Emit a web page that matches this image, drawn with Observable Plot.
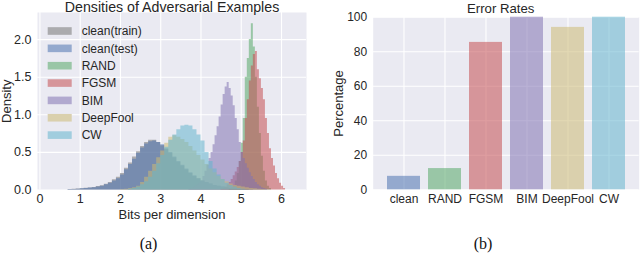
<!DOCTYPE html>
<html><head><meta charset="utf-8">
<script src="https://cdn.jsdelivr.net/npm/d3@7"></script>
<script src="https://cdn.jsdelivr.net/npm/@observablehq/plot@0.6"></script>
<style>
body{margin:0;background:#fff}
#wrap{position:relative;width:640px;height:255px;overflow:hidden}
#wrap > svg{position:absolute;top:0}
</style>
</head><body><div id="wrap"></div>
<script>
// ---------- Panel (a): histogram densities ----------
const seriesNames = ["clean(train)", "clean(test)", "RAND", "FGSM", "BIM", "DeepFool", "CW"];
const seriesColors = ["#808080", "#4C72B0", "#55A868", "#C44E52", "#8172B2", "#CCB974", "#64B5CD"];
const binStarts = [0.7, 0.7, 4.7, 4.5, 3.7, 2.0, 2.2];
const binWidths = [0.1, 0.1, 0.05, 0.05, 0.05, 0.1, 0.1];

const cleanTrain = [0.006,0.009,0.012,0.017,0.022,0.028,0.034,0.045,0.057,0.078,0.1,0.135,0.17,0.22,0.29,0.36,0.44,0.51,0.58,0.63,0.66,0.66,0.63,0.59,0.54,0.49,0.43,0.37,0.32,0.27,0.22,0.18,0.15,0.12,0.1,0.08,0.06,0.05,0.04,0.03,0.02,0.015,0.01,0.007,0.005,0.003];
const cleanTest = [0.005,0.008,0.01,0.015,0.02,0.025,0.03,0.04,0.05,0.07,0.09,0.12,0.15,0.2,0.27,0.34,0.41,0.49,0.56,0.61,0.64,0.65,0.63,0.6,0.55,0.5,0.44,0.38,0.33,0.28,0.23,0.19,0.15,0.12,0.1,0.08,0.06,0.05,0.04,0.03,0.02,0.015,0.01,0.007,0.005,0.003];
const rand = [0.01,0.03,0.06,0.12,0.22,0.38,0.62,0.95,1.5,1.75,2.0,2.21,1.9,1.5,1.1,0.75,0.45,0.25,0.12,0.05,0.02];
const fgsm = [0.01,0.02,0.04,0.07,0.1,0.14,0.19,0.24,0.3,0.38,0.5,0.65,0.95,1.2,1.45,1.65,1.8,1.84,1.6,1.48,1.35,1.2,0.95,0.75,0.55,0.42,0.32,0.22,0.15,0.09,0.05,0.02];
const bim = [0.01,0.02,0.03,0.05,0.07,0.09,0.12,0.18,0.25,0.33,0.42,0.5,0.6,0.72,0.84,0.97,1.13,1.27,1.37,1.43,1.35,1.25,1.12,0.95,0.8,0.63,0.5,0.42,0.35,0.29,0.23,0.18,0.14,0.1,0.07,0.05,0.03,0.02,0.01];
const deepFool = [0.005,0.01,0.02,0.03,0.05,0.1,0.17,0.25,0.34,0.43,0.52,0.62,0.7,0.72,0.7,0.67,0.63,0.58,0.52,0.46,0.4,0.34,0.28,0.23,0.18,0.14,0.11,0.08,0.06,0.05,0.04,0.03,0.02,0.015,0.01,0.005];
const cw = [0.01,0.02,0.04,0.07,0.11,0.17,0.25,0.35,0.46,0.57,0.66,0.73,0.8,0.85,0.86,0.85,0.8,0.73,0.65,0.5,0.38,0.28,0.2,0.14,0.09,0.06,0.04,0.02,0.01];
const seriesValues = [cleanTrain, cleanTest, rand, fgsm, bim, deepFool, cw];

const densXTicks = [0, 1, 2, 3, 4, 5, 6];
const densYTicks = [0, 0.5, 1.0, 1.5, 2.0];

// ---------- Panel (b): error rates ----------
const errCategories = ["clean", "RAND", "FGSM", "BIM", "DeepFool", "CW"];
const errValues = [7.8, 12.3, 85.4, 100, 94.1, 100];
const errColors = ["#4C72B0", "#55A868", "#C44E52", "#8172B2", "#CCB974", "#64B5CD"];
const errYTicks = [0, 20, 40, 60, 80, 100];

const BG = "#EAEAF2", INK = "#262626", ALPHA = 0.55;

function steps(start, w, vals) {
  const pts = vals.map((v, i) => ({x: start + i * w, y: v}));
  pts.push({x: start + vals.length * w, y: vals[vals.length - 1]});
  return pts;
}

const areaMarks = seriesValues.map((vals, k) =>
  Plot.areaY(steps(binStarts[k], binWidths[k], vals), {
    x: "x", y: "y", curve: "step-after", fill: seriesColors[k], fillOpacity: k === 0 ? 0.6 : ALPHA
  })
);

const left = Plot.plot({
  width: 320, height: 255,
  marginLeft: 37, marginRight: 14, marginTop: 12, marginBottom: 65.5,
  style: {background: "transparent", fontFamily: "'Liberation Sans', Arial, sans-serif", fontSize: "12.5px", color: INK, overflow: "visible"},
  x: {domain: [-0.06, 6.62], label: null},
  y: {domain: [0, 2.36], label: null},
  marks: [
    Plot.frame({fill: BG, stroke: null}),
    Plot.gridX(densXTicks, {stroke: "white", strokeOpacity: 1, strokeWidth: 1.1}),
    Plot.gridY(densYTicks, {stroke: "white", strokeOpacity: 1, strokeWidth: 1.1}),
    ...areaMarks,
    Plot.axisX(densXTicks, {tickSize: 0, tickPadding: 4.5, fill: INK, tickFormat: d3.format("d")}),
    Plot.axisY(densYTicks, {tickSize: 0, tickPadding: 6, fill: INK, tickFormat: d3.format(".1f")}),
    Plot.text(["Densities of Adversarial Examples"], {frameAnchor: "top", lineAnchor: "bottom", dy: -1, fontSize: 14.2, fill: INK}),
    Plot.text(["Bits per dimension"], {frameAnchor: "bottom", lineAnchor: "bottom", dy: 28.5, fontSize: 13, fill: INK}),
    Plot.text(["Density"], {frameAnchor: "left", rotate: -90, dx: -30.5, lineAnchor: "middle", textAnchor: "middle", fontSize: 13, fill: INK}),
    Plot.text(["(a)"], {frameAnchor: "bottom-left", dx: 111, dy: 58.5, lineAnchor: "bottom", textAnchor: "middle", fontSize: 16, fontFamily: "'Liberation Serif', 'Times New Roman', serif", fill: "#111"})
  ]
});
left.style.left = "0px";

const right = Plot.plot({
  width: 320, height: 255,
  marginLeft: 52.7, marginRight: 1.3, marginTop: 16.7, marginBottom: 65.7,
  style: {background: "transparent", fontFamily: "'Liberation Sans', Arial, sans-serif", fontSize: "12px", color: INK, overflow: "visible"},
  x: {domain: errCategories, paddingInner: 0.2, paddingOuter: 0.29, label: null},
  y: {domain: [0, 100], label: null},
  color: {type: "identity"},
  marks: [
    Plot.frame({fill: BG, stroke: null}),
    Plot.gridX({stroke: "white", strokeOpacity: 1, strokeWidth: 1.1}),
    Plot.gridY(errYTicks, {stroke: "white", strokeOpacity: 1, strokeWidth: 1.1}),
    Plot.barY(errCategories, {x: d => d, y: (d, i) => errValues[i], fill: (d, i) => errColors[i], fillOpacity: ALPHA}),
    Plot.axisX({tickSize: 0, tickPadding: 5, fill: INK}),
    Plot.axisY(errYTicks, {tickSize: 0, tickPadding: 6, fill: INK, tickFormat: d3.format("d")}),
    Plot.text(["Error Rates"], {frameAnchor: "top", lineAnchor: "bottom", dx: -5.5, dy: -4.3, fontSize: 13.2, fill: INK}),
    Plot.text(["Percentage"], {frameAnchor: "left", rotate: -90, dx: -34.5, lineAnchor: "middle", textAnchor: "middle", fontSize: 13, fill: INK}),
    Plot.text(["(b)"], {frameAnchor: "bottom-left", dx: 109.8, dy: 58.7, lineAnchor: "bottom", textAnchor: "middle", fontSize: 16, fontFamily: "'Liberation Serif', 'Times New Roman', serif", fill: "#111"})
  ]
});
right.style.left = "320px";

const wrap = document.getElementById("wrap");
wrap.appendChild(left);
wrap.appendChild(right);

// Legend overlay for panel (a)
const legendY0 = 31, legendStep = 17.35;
const leg = d3.create("svg").attr("width", 320).attr("height", 255)
  .style("position", "absolute").style("left", "0px").style("top", "0px").style("pointer-events", "none");
const items = leg.selectAll("g").data(seriesNames).join("g")
  .attr("transform", (d, i) => `translate(47.7,${legendY0 + i * legendStep})`);
items.append("rect").attr("x", 0).attr("y", -3.8).attr("width", 24).attr("height", 7.6)
  .attr("fill", BG);
items.append("rect").attr("x", 0).attr("y", -3.8).attr("width", 24).attr("height", 7.6)
  .attr("fill", (d, i) => seriesColors[i]).attr("fill-opacity", (d, i) => i === 0 ? 0.6 : ALPHA);
items.append("text").attr("x", 34).attr("y", 0).attr("dy", "0.35em")
  .attr("font-family", "'Liberation Sans', Arial, sans-serif").attr("font-size", 12).attr("fill", INK)
  .text(d => d);
wrap.appendChild(leg.node());
</script>
</body></html>
